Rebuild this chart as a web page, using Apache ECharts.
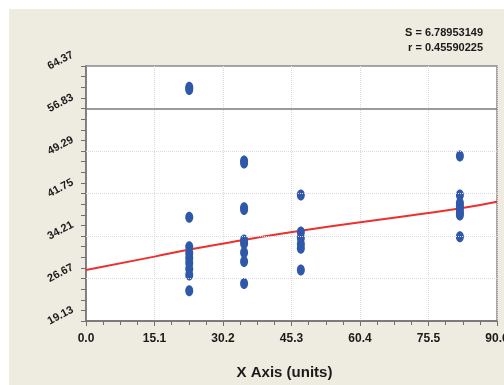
<!DOCTYPE html>
<html><head><meta charset="utf-8">
<script src="https://cdn.jsdelivr.net/npm/echarts@6/dist/echarts.min.js"></script>
<style>
html,body{margin:0;padding:0;background:#fff}
#bg{position:absolute;left:9px;top:9px;width:495px;height:376px;background:#eeebe0}
#c{position:absolute;left:0;top:0;width:504px;height:385px}
</style>
</head><body><div id="bg"></div><div id="c"></div>
<script>
// ---- data ----
const xTicks = [0.0, 15.1, 30.2, 45.3, 60.4, 75.5, 90.6];
const yTicks = [19.13, 26.67, 34.21, 41.75, 49.29, 56.83, 64.37];
const refLineY = 56.83;
const groupX = [22.76, 34.85, 47.36, 82.42];
const group1 = [60.6, 60.2, 37.53, 32.3, 31.2, 30.3, 29.4, 28.4, 27.3, 24.5];
const group2 = [47.5, 47.15, 39.2, 38.9, 33.5, 32.9, 31.3, 29.7, 25.8];
const group3 = [41.48, 34.92, 33.86, 32.79, 32.03, 28.18];
const group4 = [48.4, 41.5, 40.06, 39.5, 38.99, 38.4, 37.94, 34.09];
const fitX = [0, 15.1, 22.25, 34.76, 47.29, 72.26, 82.64, 90.6];
const fitY = [28.18, 30.55, 31.73, 33.5, 35.15, 37.94, 39.12, 40.29];
const statLines = ['S = 6.78953149', 'r = 0.45590225'];
const xName = 'X Axis (units)';

// ---- build ----
const groups = [group1, group2, group3, group4];
const scatterData = [];
groups.forEach((g, i) => g.forEach(v => scatterData.push([groupX[i], v])));
const fitData = fitX.map((x, i) => [x, fitY[i]]);
const yAllTicks = [];
for (let i = 0; i < yTicks.length - 1; i++) {
  const step = (yTicks[i + 1] - yTicks[i]) / 4;
  for (let k = 0; k < 4; k++) yAllTicks.push(+(yTicks[i] + k * step).toFixed(4));
}
yAllTicks.push(yTicks[yTicks.length - 1]);

const FONT = "'Liberation Sans Narrow','Liberation Sans',Arial,sans-serif";
const axisCol = '#6f6f6f';
const gridCol = '#d9d9d9';
const dotCol = '#2f58a9';

const chart = echarts.init(document.getElementById('c'), null, {renderer: 'canvas'});
chart.setOption({
  animation: false,
  backgroundColor: 'transparent',
  grid: {left: 86, right: 7, top: 66, bottom: 64, show: true, backgroundColor: '#fff',
         borderColor: '#8a8a8a', borderWidth: 1.5, containLabel: false, outerBoundsMode: 'none'},
  graphic: [
    {type: 'text', right: 21, top: 27, style: {text: statLines[0], textAlign: 'right',
      font: 'bold 11px ' + FONT, fill: '#1a1a1a'}},
    {type: 'text', right: 21, top: 42, style: {text: statLines[1], textAlign: 'right',
      font: 'bold 11px ' + FONT, fill: '#1a1a1a'}}
  ],
  xAxis: {
    type: 'value', min: xTicks[0], max: xTicks[xTicks.length - 1], interval: xTicks[1] - xTicks[0],
    name: xName, nameLocation: 'middle', nameGap: 44,
    nameTextStyle: {fontFamily: FONT, fontWeight: 'bold', fontSize: 15, color: '#1a1a1a', padding: [0, 14, 0, 0]},
    axisLine: {show: true, lineStyle: {color: axisCol, width: 1.5}},
    axisTick: {show: true, length: 5, lineStyle: {color: axisCol}},
    minorTick: {show: true, splitNumber: 4, length: 4, lineStyle: {color: axisCol}},
    axisLabel: {fontFamily: FONT, fontWeight: 'bold', fontSize: 12, color: '#1a1a1a', margin: 12,
      formatter: v => v.toFixed(1)},
    splitLine: {show: true, lineStyle: {color: gridCol, type: 'dotted'}}
  },
  yAxis: {
    type: 'value', min: yTicks[0], max: yTicks[yTicks.length - 1],
    axisLine: {show: true, lineStyle: {color: axisCol, width: 1.5}},
    axisTick: {show: true, length: 5, customValues: yAllTicks, lineStyle: {color: axisCol}},
    axisLabel: {customValues: yTicks, rotate: 28, fontFamily: FONT, fontWeight: 'bold', fontSize: 11,
      color: '#1a1a1a', margin: 7, verticalAlign: 'bottom', padding: [0, 0, 8, 0],
      formatter: v => v.toFixed(2)},
    splitLine: {show: false}
  },
  series: [
    {
      type: 'line', data: [], z: 1, silent: true,
      markLine: {
        silent: true, symbol: 'none', label: {show: false}, animation: false,
        data: yTicks.filter(v => v !== refLineY && v !== yTicks[0] && v !== yTicks[yTicks.length-1])
          .map(v => ({yAxis: v, lineStyle: {color: gridCol, type: 'dotted', width: 1}}))
          .concat([{yAxis: refLineY, lineStyle: {color: '#7a7a7a', type: 'solid', width: 1.5}}])
      }
    },
    {
      type: 'line', data: fitData, smooth: true, symbol: 'none', z: 2,
      lineStyle: {color: '#ee2f2f', width: 2}
    },
    {
      type: 'custom', data: scatterData, z: 3, silent: true,
      renderItem: (params, api) => {
        const p = api.coord([api.value(0), api.value(1)]);
        return {type: 'ellipse', shape: {cx: p[0], cy: p[1], rx: 4, ry: 5.5},
                style: {fill: dotCol, stroke: null, lineWidth: 0}};
      },
      encode: {x: 0, y: 1}
    }
  ]
});
</script>
</body></html>
